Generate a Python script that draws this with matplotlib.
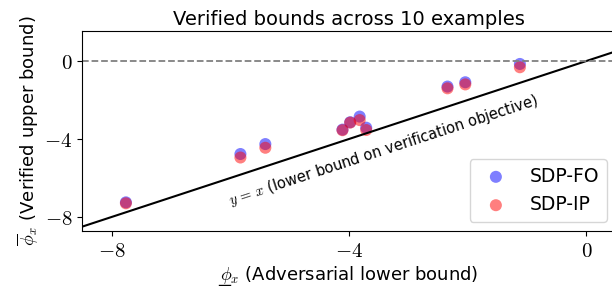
import matplotlib
matplotlib.use("Agg")
import matplotlib.pyplot as plt
from matplotlib.lines import Line2D
import numpy as np

adv_lower = [-7.76, -5.83, -5.41, -4.11, -3.98, -3.82, -3.71, -2.34, -2.04, -1.12]
sdp_fo = [-7.25, -4.77, -4.26, -3.52, -3.14, -2.85, -3.42, -1.31, -1.09, -0.15]
sdp_ip = [-7.30, -4.95, -4.45, -3.55, -3.16, -3.03, -3.54, -1.40, -1.20, -0.32]

plt.rcParams['mathtext.fontset'] = 'cm'
plt.rcParams['font.family'] = ['DejaVu Sans']

W, H = 612, 286
fig = plt.figure(figsize=(W/100, H/100), dpi=100)
ax = fig.add_axes([82/W, 1-231/H, (616-82)/W, 200/H])

ax.scatter(adv_lower, sdp_fo, s=75, color='blue', alpha=0.5, edgecolors='none', label='SDP-FO')
ax.scatter(adv_lower, sdp_ip, s=75, color='red', alpha=0.5, edgecolors='none', label='SDP-IP')

xl = (-8.5, 0.5)
ax.plot(xl, xl, color='black', lw=1.5)
ax.axhline(0, color='gray', ls='--', lw=1.3)
ax.set_xlim(*xl)
ax.set_ylim(-8.72, 1.54)
ax.set_xticks([-8, -4, 0])
ax.set_yticks([-8, -4, 0])
ax.set_xticklabels(['$-8$', '$-4$', '$0$'], fontsize=15)
ax.set_yticklabels(['$-8$', '$-4$', '$0$'], fontsize=15)
ax.text(-3.42, -4.58, r'$y\,=\,x$ (lower bound on verification objective)', rotation=18.1,
        ha='center', va='center', fontsize=10.5, rotation_mode='anchor')
ax.set_title('Verified bounds across 10 examples', fontsize=14, pad=4)
xlab = ax.set_xlabel(r'$\phi_x$ (Adversarial lower bound)', fontsize=13, labelpad=2)
ylab = ax.set_ylabel(r'$\overline{\phi}_x$ (Verified upper bound)', fontsize=13, labelpad=2)
ax.legend(loc='lower right', fontsize=13.5)

fig.canvas.draw()
bb = xlab.get_window_extent()
x0 = bb.x0 / W
fig.add_artist(Line2D([x0 - 1/W, x0 + 10/W], [(bb.y0 + 1)/H]*2, color='black', lw=1.0,
                      transform=fig.transFigure))

fig.savefig('out.png', dpi=100)
